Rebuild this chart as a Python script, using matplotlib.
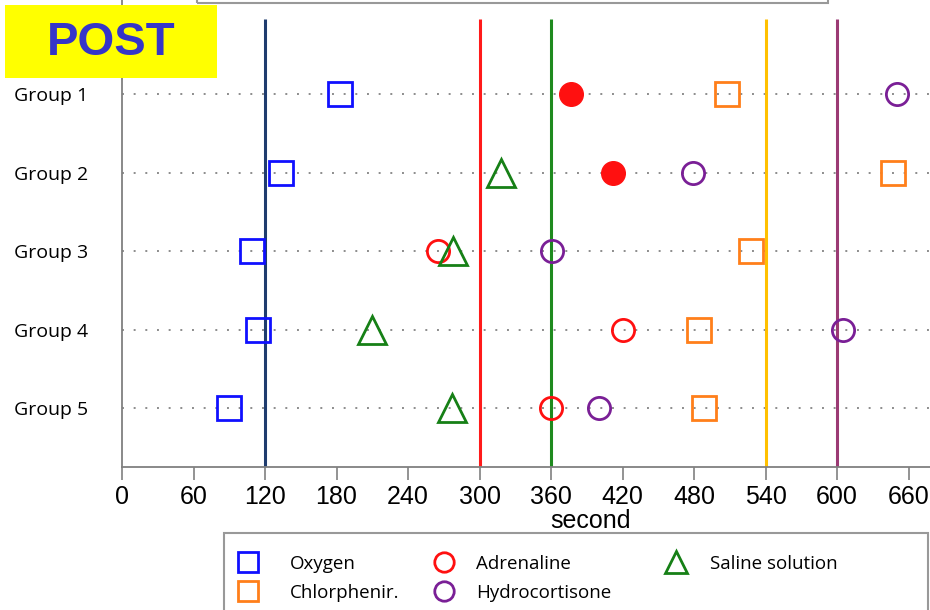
import matplotlib
matplotlib.use("Agg")
import matplotlib.pyplot as plt
from matplotlib.lines import Line2D
from matplotlib.patches import Rectangle

# data (seconds)
groups = ["Group 1", "Group 2", "Group 3", "Group 4", "Group 5"]
oxygen = [183, 133, 109, 114, 90]
adrenaline = [377, 412, 265, 420, 360]
adrenaline_filled = [True, True, False, False, False]
saline = [None, 318, 278, 210, 277]
chlorphenir = [508, 647, 528, 484, 488]
hydrocortisone = [650, 479, 361, 605, 400]

ref_lines = [120, 300, 360, 540, 600]
ref_colors = ["#1f3c6e", "#ff1a1a", "#1e8a1e", "#ffc000", "#9b3a74"]
xticks = list(range(0, 661, 60))

c_oxy = "#1010ff"
c_adr = "#ff1010"
c_sal = "#168016"
c_chl = "#ff7f1a"
c_hyd = "#7a1f96"

fig = plt.figure(figsize=(9.3, 6.1), dpi=100)
ax = fig.add_axes([122 / 930, 1 - 467 / 610, 808 / 930, 467 / 610])

ypos = list(range(1, len(groups) + 1))

# dotted guide lines
for y in ypos:
    ax.axhline(y, color="#8c8c8c", lw=1.4, ls=(0, (1, 5)), zorder=1)

# reference vertical lines
ax.vlines(ref_lines, 0.04, 5.75, colors=ref_colors, lw=2.2, zorder=2)

mk = dict(ms=17, mew=2, ls="none", zorder=3)
ax.plot(oxygen, ypos, marker="s", mfc="none", mec=c_oxy, **mk)
ax.plot(chlorphenir, ypos, marker="s", mfc="none", mec=c_chl, **mk)
ax.plot(hydrocortisone, ypos, marker="o", mfc="none", mec=c_hyd, ms=16, mew=2, ls="none", zorder=3)
for x, y, f in zip(adrenaline, ypos, adrenaline_filled):
    if f:
        ax.plot(x, y, marker="o", mfc=c_adr, mec=c_adr, ms=17, mew=1, ls="none", zorder=3)
    else:
        ax.plot(x, y, marker="o", mfc="none", mec=c_adr, ms=16, mew=2, ls="none", zorder=3)
sx = [x for x in saline if x is not None]
sy = [y for x, y in zip(saline, ypos) if x is not None]
ax.plot(sx, sy, marker="^", mfc="none", mec=c_sal, ms=20, mew=2, ls="none", zorder=3)

ax.set_xlim(0, 678)
ax.set_ylim(5.75, -0.2)
ax.set_xticks(xticks)
ax.set_xticklabels([str(t) for t in xticks], fontfamily="Liberation Sans", fontsize=18)
ax.set_yticks(ypos)
ax.set_yticklabels(groups, fontfamily="Open Sans", fontsize=14)
ax.tick_params(axis="y", length=0, pad=24.5)
ax.tick_params(axis="x", length=9, width=1.2, color="#808080", pad=4)
for s in ["top", "right"]:
    ax.spines[s].set_visible(False)
for s in ["left", "bottom"]:
    ax.spines[s].set_color("#808080")
    ax.spines[s].set_linewidth(1.3)
ax.set_xlabel("second", fontfamily="Liberation Sans", fontsize=18)
ax.xaxis.set_label_coords((591 - 122) / 808, -0.09)

# POST tag
fig.patches.append(Rectangle((5 / 930, 1 - 78 / 610), 212 / 930, 73 / 610,
                             transform=fig.transFigure, facecolor="#ffff00",
                             edgecolor="none", zorder=5))
fig.text(111 / 930, 1 - 43 / 610, "POST", color="#3535c8", fontsize=34,
         fontweight="bold", fontfamily="Liberation Sans", ha="center", va="center", zorder=6)

# partial frame at the top
fig.patches.append(Rectangle((197 / 930, 1 - 3 / 610), 631 / 930, 0.05,
                             transform=fig.transFigure, fill=False,
                             edgecolor="#999999", lw=1.5))

# legend: three columns placed separately, one shared frame
def h(marker, color, ms=14):
    return Line2D([], [], marker=marker, mfc="none", mec=color, ms=ms, mew=2, ls="none")

columns = [
    ([h("s", c_oxy), h("s", c_chl)], ["Oxygen", "Chlorphenir."], 234, 1.5),
    ([h("o", c_adr), h("o", c_hyd)], ["Adrenaline", "Hydrocortisone"], 430, 0.95),
    ([h("^", c_sal, 16)], ["Saline solution"], 662, 1.05),
]
for hs, ls, x0, pad in columns:
    lg = fig.legend(hs, ls, loc="upper left", bbox_to_anchor=(x0 / 930, 1 - 555 / 610),
                    prop={"family": "Open Sans", "size": 13.5}, frameon=False,
                    borderpad=0, borderaxespad=0, handlelength=1.5,
                    handletextpad=pad, labelspacing=0.57)
fig.patches.append(Rectangle((224 / 930, -0.02), 704 / 930, (610 - 533) / 610 + 0.02,
                             transform=fig.transFigure, fill=False,
                             edgecolor="#999999", lw=1.5))

fig.savefig("out.png", dpi=100)
